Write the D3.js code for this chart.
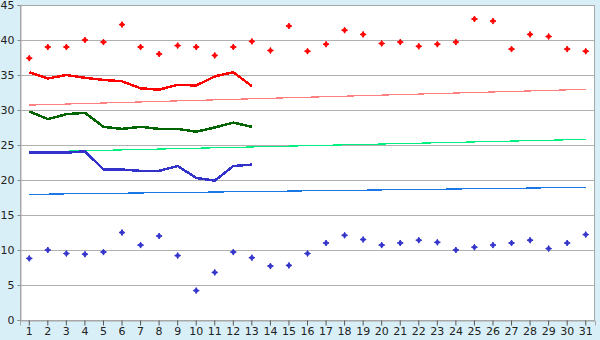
<!DOCTYPE html>
<html>
<head>
<meta charset="utf-8">
<script src="https://cdn.jsdelivr.net/npm/d3@7"></script>
<style>
  body { margin: 0; background: #d9eff7; }
  svg { display: block; }
  text { font-family: "DejaVu Sans", Verdana, sans-serif; font-size: 11px; fill: #222; }
</style>
</head>
<body>
<svg id="chart" width="600" height="340"></svg>
<script>
const W = 600, H = 340;
const margin = { top: 5, right: 5, bottom: 20, left: 20 };

const days = d3.range(1, 32);
const yTicks = [0, 5, 10, 15, 20, 25, 30, 35, 40, 45];

// daily highs / lows (markers)
const highs = [37.4, 39, 39, 40, 39.7, 42.2, 39, 38, 39.2, 39, 37.8, 39, 39.8, 38.5, 42,
    38.4, 39.4, 41.4, 40.8, 39.5, 39.7, 39.1, 39.4, 39.7, 43, 42.7, 38.7, 40.8, 40.5, 38.7, 38.4];
const lows = [8.8, 10, 9.5, 9.4, 9.7, 12.5, 10.7, 12, 9.2, 4.2, 6.8, 9.7, 8.9, 7.7, 7.8,
    9.5, 11, 12.1, 11.5, 10.7, 11, 11.4, 11.1, 10, 10.4, 10.7, 11, 11.4, 10.2, 11, 12.2];

// thick lines, days 1..13
const avgHigh = [35.4, 34.5, 35.0, 34.6, 34.3, 34.1, 33.1, 32.9, 33.6, 33.5, 34.8, 35.4, 33.4];
const avgMean = [29.8, 28.7, 29.4, 29.6, 27.6, 27.3, 27.6, 27.3, 27.3, 26.9, 27.5, 28.2, 27.6];
const avgLow = [23.9, 23.9, 23.9, 24.1, 21.5, 21.5, 21.3, 21.3, 22.0, 20.3, 19.9, 22.0, 22.2];

// thin reference lines, read at day 1 and day 31
const refDays = [1, 31];
const normHigh = [30.7, 32.95];
const normMean = [24.0, 25.8];
const normLow = [17.95, 18.95];

const svg = d3.select('#chart');

const x = d3.scaleBand()
    .domain(days)
    .range([margin.left, W - margin.right]);
const cx = d => x(d) + x.bandwidth() / 2;

const y = d3.scaleLinear()
    .domain([0, 45])
    .range([H - margin.bottom, margin.top]);

// plot background
svg.append('rect')
    .attr('x', margin.left)
    .attr('y', margin.top)
    .attr('width', W - margin.left - margin.right)
    .attr('height', H - margin.top - margin.bottom)
    .attr('fill', '#fff');

// gridlines
svg.append('g')
    .selectAll('line')
    .data(yTicks.filter(v => v > 0 && v < 45))
    .join('line')
    .attr('x1', margin.left)
    .attr('x2', W - margin.right)
    .attr('y1', d => y(d) + 0.5)
    .attr('y2', d => y(d) + 0.5)
    .attr('stroke', '#b0b0b0')
    .attr('shape-rendering', 'crispEdges');

// frame
svg.append('rect')
    .attr('x', margin.left + 0.5)
    .attr('y', margin.top + 0.5)
    .attr('width', W - margin.left - margin.right - 1)
    .attr('height', H - margin.top - margin.bottom)
    .attr('fill', 'none')
    .attr('stroke', '#a8a8a8')
    .attr('shape-rendering', 'crispEdges');

// axes
const yAxis = svg.append('g')
    .attr('transform', `translate(${margin.left + 0.5},0)`)
    .call(d3.axisLeft(y).tickValues(yTicks).tickSize(3).tickPadding(3));
yAxis.select('.domain').attr('stroke', '#a8a8a8');
yAxis.selectAll('.tick line').attr('stroke', '#888');

const xAxis = svg.append('g')
    .attr('transform', `translate(0,${H - margin.bottom + 0.5})`)
    .call(d3.axisBottom(x).tickSize(5).tickPadding(2));
xAxis.select('.domain').attr('stroke', '#a8a8a8');
xAxis.selectAll('.tick line').attr('stroke', '#555');

svg.selectAll('.tick text')
    .attr('font-family', '"DejaVu Sans", Verdana, sans-serif')
    .attr('font-size', 11)
    .attr('fill', '#222');

// thin lines
const refLine = d3.line().x((d, i) => cx(refDays[i])).y(d => y(d));
[[normHigh, '#ff8080'], [normMean, '#00f080'], [normLow, '#1a78e6']].forEach(([vals, col]) => {
    svg.append('path')
        .datum(vals)
        .attr('d', refLine)
        .attr('fill', 'none')
        .attr('stroke', col)
        .attr('stroke-width', 1.2)
        .attr('shape-rendering', 'crispEdges');
});

// thick lines
const thickLine = d3.line().x((d, i) => cx(days[i])).y(d => y(d));
[[avgHigh, '#ff0000'], [avgMean, '#006400'], [avgLow, '#3333cc']].forEach(([vals, col]) => {
    svg.append('path')
        .datum(vals)
        .attr('d', thickLine)
        .attr('fill', 'none')
        .attr('stroke', col)
        .attr('stroke-width', 2.5)
        .attr('shape-rendering', 'crispEdges');
});

// markers
const diamond = 'M0,-3L1,-1L3,0L1,1L0,3L-1,1L-3,0L-1,-1Z';
[[highs, '#ff0000'], [lows, '#3333cc']].forEach(([vals, col]) => {
    svg.append('g')
        .selectAll('path')
        .data(vals)
        .join('path')
        .attr('transform', (d, i) => `translate(${cx(days[i])},${y(d)})`)
        .attr('d', diamond)
        .attr('fill', col)
        .attr('stroke', col)
        .attr('stroke-width', 1);
});
</script>
</body>
</html>
